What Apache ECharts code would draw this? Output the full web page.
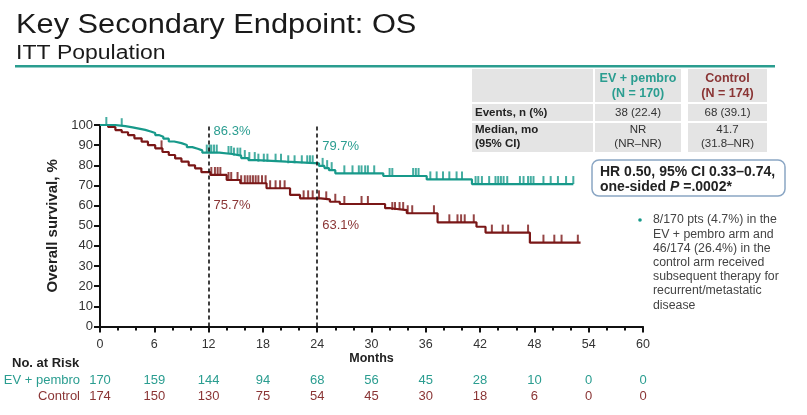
<!DOCTYPE html>
<html>
<head>
<meta charset="utf-8">
<script src="https://cdn.jsdelivr.net/npm/echarts@6/dist/echarts.min.js"></script>
<style>
  html, body { margin: 0; padding: 0; background: #fff; }
  #main { width: 807px; height: 415px; }
</style>
</head>
<body>
<div id="main"></div>
<script>
// KM step points [month, survival %]
var evSteps = [[0, 100], [1.6, 99.4], [2.8, 98.8], [3.6, 98.2], [4.3, 97.6], [5.0, 96.8], [5.6, 96.0],
    [6.1, 95.0], [6.5, 94.2], [7.0, 93.2], [7.6, 91.8], [8.2, 91.0], [9.0, 90.1], [9.6, 89.0],
    [10.2, 88.2], [10.8, 87.4], [11.3, 86.3], [13.2, 85.6], [14.6, 84.8], [15.6, 83.6], [16.4, 82.6],
    [17.3, 81.8], [20.6, 81.0], [24.2, 79.7], [24.8, 78.6], [25.3, 77.6], [26.0, 76.0],
    [31.3, 74.7], [36.1, 73.0], [41.1, 70.7]];
var evEnd = 52.3;
var evCensor = [0.7, 2.4, 11.8, 12.1, 12.3, 12.6, 12.9, 14.2, 14.5, 14.8, 15.2, 15.5, 16.0, 16.5,
    17.1, 17.5, 18.1, 18.5, 19.4, 20.0, 20.8, 21.5, 22.3, 22.9, 23.2, 23.5, 24.6, 25.1, 25.6,
    27.0, 27.9, 28.6, 28.9, 29.3, 29.6, 30.3, 32.0, 32.3, 34.6, 34.9, 35.2, 36.5, 37.2, 37.9,
    38.6, 39.4, 40.0, 41.5, 41.8, 42.2, 43.0, 43.7, 44.0, 44.3, 44.6, 45.0, 46.4, 46.8, 47.3,
    47.6, 47.9, 49.0, 49.8, 50.6, 51.5, 52.3];

var ctrlSteps = [[0, 100], [0.9, 99.0], [1.7, 97.5], [2.4, 96.4], [3.1, 95.0], [3.8, 93.4], [4.6, 91.7],
    [5.3, 90.0], [6.1, 88.4], [6.9, 86.6], [7.6, 85.1], [8.3, 83.4], [9.0, 81.8], [9.8, 80.0],
    [10.5, 78.5], [11.2, 76.6], [12.2, 75.2], [14.0, 72.7], [15.5, 71.1], [18.4, 68.6],
    [21.0, 65.3], [22.1, 63.6], [24.4, 63.1], [25.4, 61.9], [26.5, 60.8], [31.5, 58.7],
    [32.1, 57.8], [33.9, 56.2], [37.3, 51.7], [41.6, 49.5], [42.6, 46.6], [47.5, 41.6]];
var ctrlEnd = 53.1;
var ctrlCensor = [6.8, 12.3, 12.7, 13.0, 13.3, 14.2, 14.5, 15.2, 15.6, 16.0, 16.3, 16.6, 16.9,
    17.2, 17.5, 17.9, 18.3, 18.8, 19.4, 19.9, 20.4, 22.5, 23.0, 23.5, 24.2, 25.0, 26.0, 27.0,
    28.9, 29.6, 32.3, 32.6, 33.1, 33.5, 34.0, 34.5, 36.9, 38.6, 39.5, 39.9, 40.3, 41.3, 43.3,
    44.5, 45.1, 47.3, 49.0, 50.2, 51.0, 52.8];

var landmarkMonths = [12, 24];
var evLandmark = ['86.3%', '79.7%'];
var ctrlLandmark = ['75.7%', '63.1%'];

var riskMonths = [0, 6, 12, 18, 24, 30, 36, 42, 48, 54, 60];
var evRisk = [170, 159, 144, 94, 68, 56, 45, 28, 10, 0, 0];
var ctrlRisk = [174, 150, 130, 75, 54, 45, 30, 18, 6, 0, 0];

var TEAL = '#17998a';
var RED = '#7a1717';
var TEAL_TXT = '#2a9d90';
var RED_TXT = '#8a3535';
var FONT = 'Liberation Sans, Arial, sans-serif';

function survAt(steps, t) {
    var s = steps[0][1];
    for (var i = 0; i < steps.length; i++) {
        if (steps[i][0] <= t) s = steps[i][1];
    }
    return s;
}
function lineData(steps, end) {
    return steps.concat([[end, steps[steps.length - 1][1]]]);
}
function censorData(steps, times) {
    return times.map(function (t) { return [t, survAt(steps, t)]; });
}

var chart = echarts.init(document.getElementById('main'), null, { renderer: 'canvas' });

var option = {
    animation: false,
    textStyle: { fontFamily: FONT },
    grid: { left: 100, right: 164, top: 125, bottom: 88.5 },
    xAxis: {
        type: 'value', min: 0, max: 60, interval: 6,
        name: 'Months', nameLocation: 'middle', nameGap: 25,
        nameTextStyle: { fontWeight: 'bold', fontSize: 12.5, color: '#222' },
        axisLine: { lineStyle: { color: '#111', width: 2 } },
        axisTick: { length: 6, lineStyle: { color: '#111', width: 2 } },
        minorTick: { show: true, splitNumber: 3, length: 4, lineStyle: { color: '#111', width: 2 } },
        splitLine: { show: false },
        axisLabel: { fontSize: 12.5, color: '#333', margin: 12 }
    },
    yAxis: {
        type: 'value', min: 0, max: 100, interval: 10,
        name: 'Overall survival, %', nameLocation: 'middle', nameGap: 33, nameRotate: 90,
        nameTextStyle: { fontWeight: 'bold', fontSize: 15, color: '#222' },
        axisLine: { show: true, lineStyle: { color: '#111', width: 2 } },
        axisTick: { show: true, length: 6, lineStyle: { color: '#111', width: 2 } },
        splitLine: { show: false },
        axisLabel: { fontSize: 13, color: '#333', margin: 7 }
    },
    series: [
        {
            type: 'line', step: 'end', data: lineData(ctrlSteps, ctrlEnd), showSymbol: false,
            lineStyle: { color: RED, width: 2.2 }, z: 3
        },
        {
            type: 'line', step: 'end', data: lineData(evSteps, evEnd), showSymbol: false,
            lineStyle: { color: TEAL, width: 2.2 }, z: 4
        },
        {
            type: 'scatter', data: censorData(ctrlSteps, ctrlCensor), symbol: 'rect',
            symbolSize: [2, 8], symbolOffset: [0, -4], itemStyle: { color: RED }, z: 3
        },
        {
            type: 'scatter', data: censorData(evSteps, evCensor), symbol: 'rect',
            symbolSize: [2, 8], symbolOffset: [0, -4], itemStyle: { color: TEAL }, z: 4
        },
        {
            type: 'line', data: [], z: 2,
            markLine: {
                silent: true, symbol: 'none', label: { show: false },
                lineStyle: { color: '#111', type: [4, 3], width: 1.6 },
                data: landmarkMonths.map(function (m) { return { xAxis: m }; })
            }
        }
    ]
};
chart.setOption(option);

// extra text and boxes, placed after axes are laid out
var g = [];
function txt(x, y, s, style, extra) {
    g.push(Object.assign({ type: 'text', x: x, y: y, style: Object.assign({ text: s, fontFamily: FONT }, style) }, extra || {}));
}

// title
txt(16, 39, 'Key Secondary Endpoint: OS', { fontSize: 27, fill: '#1a1a1a', textVerticalAlign: 'bottom' }, { scaleX: 1.14 });
txt(16, 63, 'ITT Population', { fontSize: 20, fill: '#1a1a1a', textVerticalAlign: 'bottom' }, { scaleX: 1.15 });
g.push({ type: 'rect', shape: { x: 15, y: 65, width: 760, height: 2.5 }, style: { fill: '#2a9d8f' } });

// landmark labels
var px12 = chart.convertToPixel({ xAxisIndex: 0 }, landmarkMonths[0]);
var px24 = chart.convertToPixel({ xAxisIndex: 0 }, landmarkMonths[1]);
var lm = { fontSize: 13, textVerticalAlign: 'middle' };
txt(px12 + 5, 131, evLandmark[0], Object.assign({ fill: TEAL_TXT }, lm));
txt(px24 + 5, 146, evLandmark[1], Object.assign({ fill: TEAL_TXT }, lm));
txt(px12 + 5, 205, ctrlLandmark[0], Object.assign({ fill: RED_TXT }, lm));
txt(px24 + 5, 225, ctrlLandmark[1], Object.assign({ fill: RED_TXT }, lm));

// summary table
var cellBg = '#e4e4e4';
var cols = [[472, 121], [595, 86], [688, 79]];
var rows = [[69, 33], [104, 17], [123, 29]];
rows.forEach(function (r) {
    cols.forEach(function (c) {
        g.push({ type: 'rect', shape: { x: c[0], y: r[0], width: c[1], height: r[1] }, style: { fill: cellBg } });
    });
});
function cx(i) { return cols[i][0] + cols[i][1] / 2; }
var head = { fontSize: 12.5, fontWeight: 'bold', textVerticalAlign: 'middle', textAlign: 'center' };
txt(cx(1), 79, 'EV + pembro', Object.assign({ fill: TEAL_TXT }, head));
txt(cx(1), 94, '(N = 170)', Object.assign({ fill: TEAL_TXT }, head));
txt(cx(2), 79, 'Control', Object.assign({ fill: RED_TXT }, head));
txt(cx(2), 94, '(N = 174)', Object.assign({ fill: RED_TXT }, head));
var bold = { fontSize: 11.5, fontWeight: 'bold', textVerticalAlign: 'middle', fill: '#222' };
txt(475, 113, 'Events, n (%)', bold);
txt(475, 130, 'Median, mo', bold);
txt(475, 144, '(95% CI)', bold);
var norm = { fontSize: 11.5, fill: '#333', textAlign: 'center', textVerticalAlign: 'middle' };
txt(cx(1), 113, '38 (22.4)', norm);
txt(cx(2), 113, '68 (39.1)', norm);
txt(cx(1), 130, 'NR', norm);
txt(cx(1), 144, '(NR\u2013NR)', norm);
txt(cx(2), 130, '41.7', norm);
txt(cx(2), 144, '(31.8\u2013NR)', norm);

// HR box
g.push({
    type: 'rect', shape: { x: 592, y: 160, width: 193, height: 36, r: 7 },
    style: { fill: '#fff', stroke: '#8aa6c4', lineWidth: 1.5 }
});
txt(600, 172, 'HR 0.50, 95% CI 0.33\u20130.74,', { fontSize: 14, fontWeight: 'bold', fill: '#222', textVerticalAlign: 'middle' });
g.push({
    type: 'text', x: 600, y: 187,
    style: {
        text: '{b|one-sided }{i|P}{b| =.0002*}',
        fontFamily: FONT, textVerticalAlign: 'middle',
        rich: {
            b: { fontSize: 14, fontWeight: 'bold', fill: '#222', fontFamily: FONT },
            i: { fontSize: 14, fontWeight: 'bold', fontStyle: 'italic', fill: '#222', fontFamily: FONT }
        }
    }
});

// bullet
g.push({ type: 'circle', shape: { cx: 640, cy: 220, r: 1.8 }, style: { fill: TEAL } });
var bullet = ['8/170 pts (4.7%) in the', 'EV + pembro arm and', '46/174 (26.4%) in the',
    'control arm received', 'subsequent therapy for', 'recurrent/metastatic', 'disease'];
bullet.forEach(function (s, i) {
    txt(653, 220 + i * 14.2, s, { fontSize: 12.3, fill: '#444', textVerticalAlign: 'middle' });
});

// number at risk
txt(12, 363, 'No. at Risk', { fontSize: 13, fontWeight: 'bold', fill: '#222', textVerticalAlign: 'middle' });
txt(80, 380, 'EV + pembro', { fontSize: 13, fill: TEAL_TXT, textAlign: 'right', textVerticalAlign: 'middle' });
txt(80, 396, 'Control', { fontSize: 13, fill: RED_TXT, textAlign: 'right', textVerticalAlign: 'middle' });
riskMonths.forEach(function (m, i) {
    var x = chart.convertToPixel({ xAxisIndex: 0 }, m);
    txt(x, 380, String(evRisk[i]), { fontSize: 13, fill: TEAL_TXT, textAlign: 'center', textVerticalAlign: 'middle' });
    txt(x, 396, String(ctrlRisk[i]), { fontSize: 13, fill: RED_TXT, textAlign: 'center', textVerticalAlign: 'middle' });
});

chart.setOption({ graphic: g });
</script>
</body>
</html>
